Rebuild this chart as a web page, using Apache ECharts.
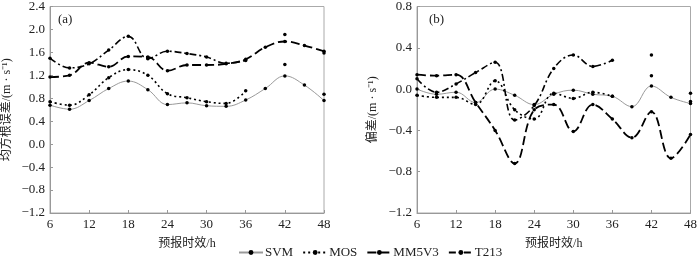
<!DOCTYPE html>
<html>
<head>
<meta charset="utf-8">
<script src="https://cdn.jsdelivr.net/npm/echarts@6/dist/echarts.min.js"></script>
<style>
  html, body { margin: 0; padding: 0; background: #fff; }
  #main { width: 700px; height: 259px; }
</style>
</head>
<body>
<div id="main"></div>
<script>
// 预报时效 (h)
var hours = [6, 9, 12, 15, 18, 21, 24, 27, 30, 33, 36, 39, 42, 45, 48];

// (a) 均方根误差
var svmA  = [0.68, 0.61, 0.76, 0.97, 1.10, 0.95, 0.69, 0.72, 0.67, 0.66, 0.77, 0.97, 1.19, 1.03, 0.76];
var mosA  = [0.74, 0.68, 0.86, 1.16, 1.30, 1.20, 0.88, 0.81, 0.74, 0.71, 0.93, null, 1.39, null, 0.87];
var mm5A  = [1.17, 1.20, 1.42, 1.35, 1.53, 1.52, 1.28, 1.38, 1.38, 1.40, 1.48, 1.69, 1.79, 1.72, 1.62];
var t213A = [1.50, 1.33, 1.40, 1.64, 1.88, 1.49, 1.62, 1.58, 1.52, 1.41, 1.46, null, 1.91, null, 1.59];

// (b) 偏差
var svmB  = [0.00, -0.05, -0.03, -0.13, 0.00, -0.06, -0.15, -0.05, -0.01, -0.05, -0.07, -0.17, 0.03, -0.08, -0.14];
var mosB  = [-0.06, -0.08, -0.08, -0.15, 0.08, -0.20, -0.29, -0.04, -0.09, -0.03, -0.07, null, 0.13, null, -0.12];
var mm5B  = [0.14, 0.13, 0.14, -0.13, -0.40, -0.72, -0.20, -0.15, -0.41, -0.15, -0.29, -0.47, -0.22, -0.67, -0.44];
var t213B = [0.10, -0.03, 0.05, 0.16, 0.26, -0.30, -0.16, 0.20, 0.33, 0.22, 0.28, null, 0.33, null, -0.04];

var names = ['SVM', 'MOS', 'MM5V3', 'T213'];

function pairs(vals) {
    return hours.map(function (h, i) { return [h, vals[i]]; });
}

var serif = '"Liberation Serif", "Times New Roman", serif';
var cjk = '"Liberation Serif", "Noto Sans CJK SC", serif';

function fmt(v) {
    var s = Math.abs(v) < 1e-9 ? '0.0' : v.toFixed(1);
    return s.replace('-', '\u2212');
}

function xAx(idx) {
    return {
        type: 'value', gridIndex: idx, min: 6, max: 48, interval: 6,
        name: '预报时效/h', nameLocation: 'middle', nameGap: 25,
        nameTextStyle: { fontFamily: cjk, fontSize: 12, color: '#222' },
        axisLine: { onZero: false, lineStyle: { color: '#999' } },
        axisTick: { inside: true, length: 3, lineStyle: { color: '#999' } },
        axisLabel: { fontFamily: serif, fontSize: 13, color: '#222', margin: 5 },
        splitLine: { show: false }
    };
}

function yAx(idx, min, max, name, gap) {
    return {
        type: 'value', gridIndex: idx, min: min, max: max, interval: 0.4,
        name: name, nameLocation: 'middle', nameRotate: 90, nameGap: gap,
        nameTextStyle: { fontFamily: cjk, fontSize: 12, color: '#222' },
        axisLine: { show: true, onZero: false, lineStyle: { color: '#999' } },
        axisTick: { show: true, inside: true, length: 3, lineStyle: { color: '#999' } },
        axisLabel: { fontFamily: serif, fontSize: 13, color: '#222', margin: 5, formatter: fmt },
        splitLine: { show: false }
    };
}

var styles = {
    'SVM':   { color: '#9a9a9a', width: 1, type: 'solid' },
    'MOS':   { color: '#000', width: 1.6, type: [2, 3] },
    'MM5V3': { color: '#000', width: 1.8, type: [9, 4] },
    'T213':  { color: '#000', width: 1.6, type: [7, 3, 2, 3] }
};

function line(name, vals, idx) {
    var st = styles[name];
    return {
        name: name, type: 'line', xAxisIndex: idx, yAxisIndex: idx,
        data: pairs(vals), smooth: 0.4, connectNulls: false,
        symbol: 'circle', symbolSize: 3.5, showSymbol: true, showAllSymbol: true,
        itemStyle: { color: '#000' },
        lineStyle: { color: st.color, width: st.width, type: st.type },
        animation: false
    };
}

var myChart = echarts.init(document.getElementById('main'));

option = {
    backgroundColor: '#fff',
    title: [
        { text: '(a)', left: 53, top: 8, textStyle: { fontFamily: serif, fontSize: 13, fontWeight: 'normal', color: '#222' } },
        { text: '(b)', left: 424, top: 8, textStyle: { fontFamily: serif, fontSize: 13, fontWeight: 'normal', color: '#222' } }
    ],
    legend: {
        data: names, left: 238, top: 246, padding: 0,
        itemWidth: 24, itemHeight: 6, itemGap: 9,
        textStyle: { fontFamily: serif, fontSize: 13, color: '#222', padding: [0, 0, 0, -3] }
    },
    grid: [
        { left: 47, top: 4, width: 277, height: 209, show: true, borderColor: '#aaa', borderWidth: 1 },
        { left: 417, top: 4, width: 278, height: 209, show: true, borderColor: '#aaa', borderWidth: 1 }
    ],
    xAxis: [xAx(0), xAx(1)],
    yAxis: [
        yAx(0, -1.2, 2.4, '均方根误差/(m · s⁻¹)', 37),
        yAx(1, -1.2, 0.8, '偏差/(m · s⁻¹)', 38)
    ],
    series: [
        line('SVM', svmA, 0),
        line('MOS', mosA, 0),
        line('MM5V3', mm5A, 0),
        line('T213', t213A, 0),
        line('SVM', svmB, 1),
        line('MOS', mosB, 1),
        line('MM5V3', mm5B, 1),
        line('T213', t213B, 1)
    ]
};

myChart.setOption(option);
window.addEventListener("resize", function () {
    myChart.resize();
});
</script>
</body>
</html>
